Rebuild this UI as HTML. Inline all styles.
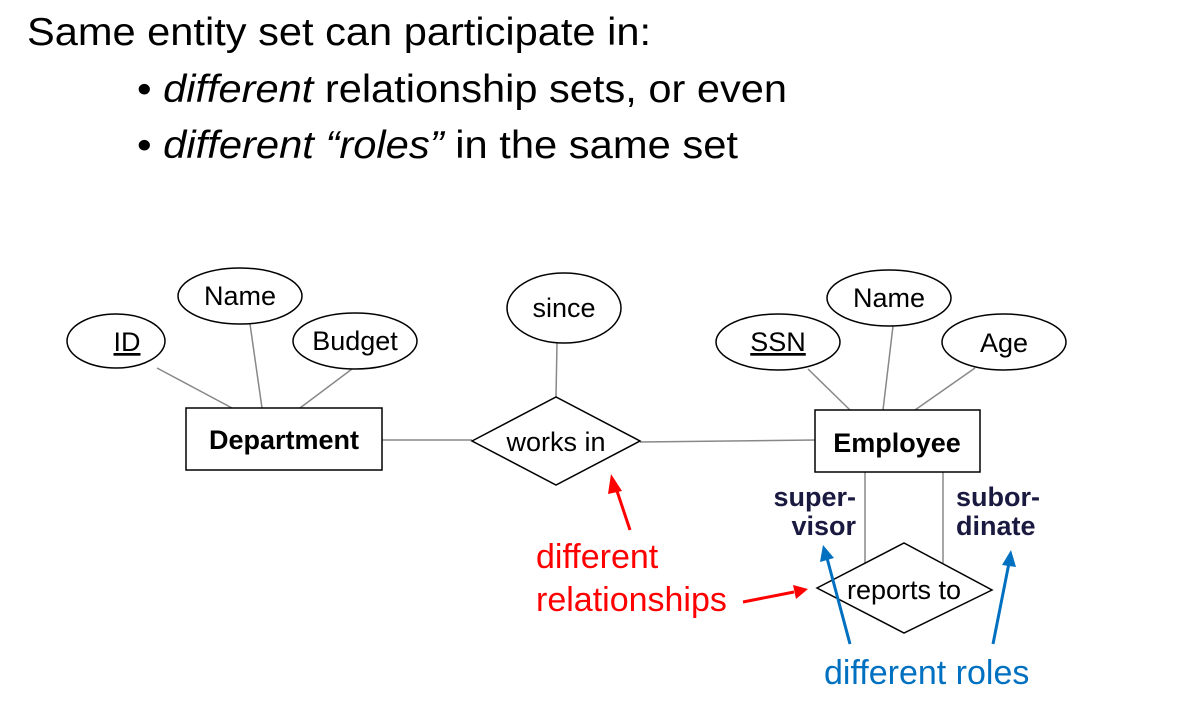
<!DOCTYPE html>
<html><head><meta charset="utf-8"><style>
html,body{margin:0;padding:0;background:#fff;}
svg{display:block;font-family:"Liberation Sans",sans-serif;}
</style></head><body>
<svg width="1183" height="722" viewBox="0 0 1183 722" xmlns="http://www.w3.org/2000/svg">
<text x="27" y="45" font-size="39" textLength="624" lengthAdjust="spacingAndGlyphs">Same entity set can participate in:</text>
<text x="137" y="102" font-size="39" textLength="650" lengthAdjust="spacingAndGlyphs">• <tspan font-style="italic">different</tspan> relationship sets, or even</text>
<text x="137" y="158" font-size="39" textLength="601" lengthAdjust="spacingAndGlyphs">• <tspan font-style="italic">different “roles”</tspan> in the same set</text>

<g stroke="#888" stroke-width="1.5">
<line x1="157" y1="368" x2="232" y2="408"/>
<line x1="250" y1="324" x2="262" y2="408"/>
<line x1="352" y1="369" x2="300" y2="408"/>
<line x1="557" y1="343" x2="556" y2="397"/>
<line x1="808" y1="369" x2="850" y2="410"/>
<line x1="893" y1="326" x2="883" y2="410"/>
<line x1="975" y1="368" x2="915" y2="410"/>
<line x1="382" y1="440" x2="472" y2="440"/>
<line x1="640" y1="442" x2="815" y2="440"/>
<line x1="865" y1="472" x2="865" y2="566"/>
<line x1="943" y1="472" x2="943" y2="563"/>
</g>
<g fill="#fff" stroke="#000" stroke-width="1.5">
<ellipse cx="116" cy="341" rx="49" ry="27"/>
<ellipse cx="240" cy="296" rx="62" ry="28"/>
<ellipse cx="355" cy="341" rx="62" ry="28"/>
<ellipse cx="564" cy="308" rx="57" ry="35"/>
<ellipse cx="778" cy="342" rx="62" ry="28"/>
<ellipse cx="889" cy="298" rx="62" ry="28"/>
<ellipse cx="1004" cy="342" rx="62" ry="28"/>
<rect x="186" y="408" width="196" height="62"/>
<rect x="815" y="410" width="165" height="62"/>
<polygon points="472,441 556,397 640,441 556,485"/>
<polygon points="817,588 904,543 992,590 904,633"/>
</g>
<g font-size="27" text-anchor="middle">
<text x="127" y="351" text-decoration="underline">ID</text>
<text x="240" y="305">Name</text>
<text x="355" y="350">Budget</text>
<text x="564" y="317">since</text>
<text x="778" y="351" text-decoration="underline">SSN</text>
<text x="889" y="307">Name</text>
<text x="1004" y="352">Age</text>
<text x="284" y="449" font-weight="bold">Department</text>
<text x="897" y="452" font-weight="bold">Employee</text>
<text x="556" y="451">works in</text>
<text x="904" y="599">reports to</text>
</g>
<g font-size="27" font-weight="bold" fill="#1a1a40">
<text x="856" y="506" text-anchor="end">super-</text>
<text x="856" y="535" text-anchor="end">visor</text>
<text x="956" y="506">subor-</text>
<text x="956" y="535">dinate</text>
</g>
<g font-size="34" fill="#ff0000">
<text x="536" y="568">different</text>
<text x="536" y="611">relationships</text>
</g>
<text x="824" y="684" font-size="34" fill="#0070c0">different roles</text>
<g stroke="#ff0000" stroke-width="3" fill="#ff0000">
<line x1="630" y1="530" x2="616" y2="488"/>
<polygon points="611,474 622,491 608,494" stroke="none"/>
<line x1="743" y1="602" x2="794" y2="592"/>
<polygon points="808,589 793,585 796,599" stroke="none"/>
</g>
<g stroke="#0070c0" stroke-width="3" fill="#0070c0">
<line x1="850" y1="644" x2="827" y2="558"/>
<polygon points="823,545 820,562 834,558" stroke="none"/>
<line x1="993" y1="644" x2="1009" y2="563"/>
<polygon points="1011,550 1002,565 1016,567" stroke="none"/>
</g>
</svg>
</body></html>
